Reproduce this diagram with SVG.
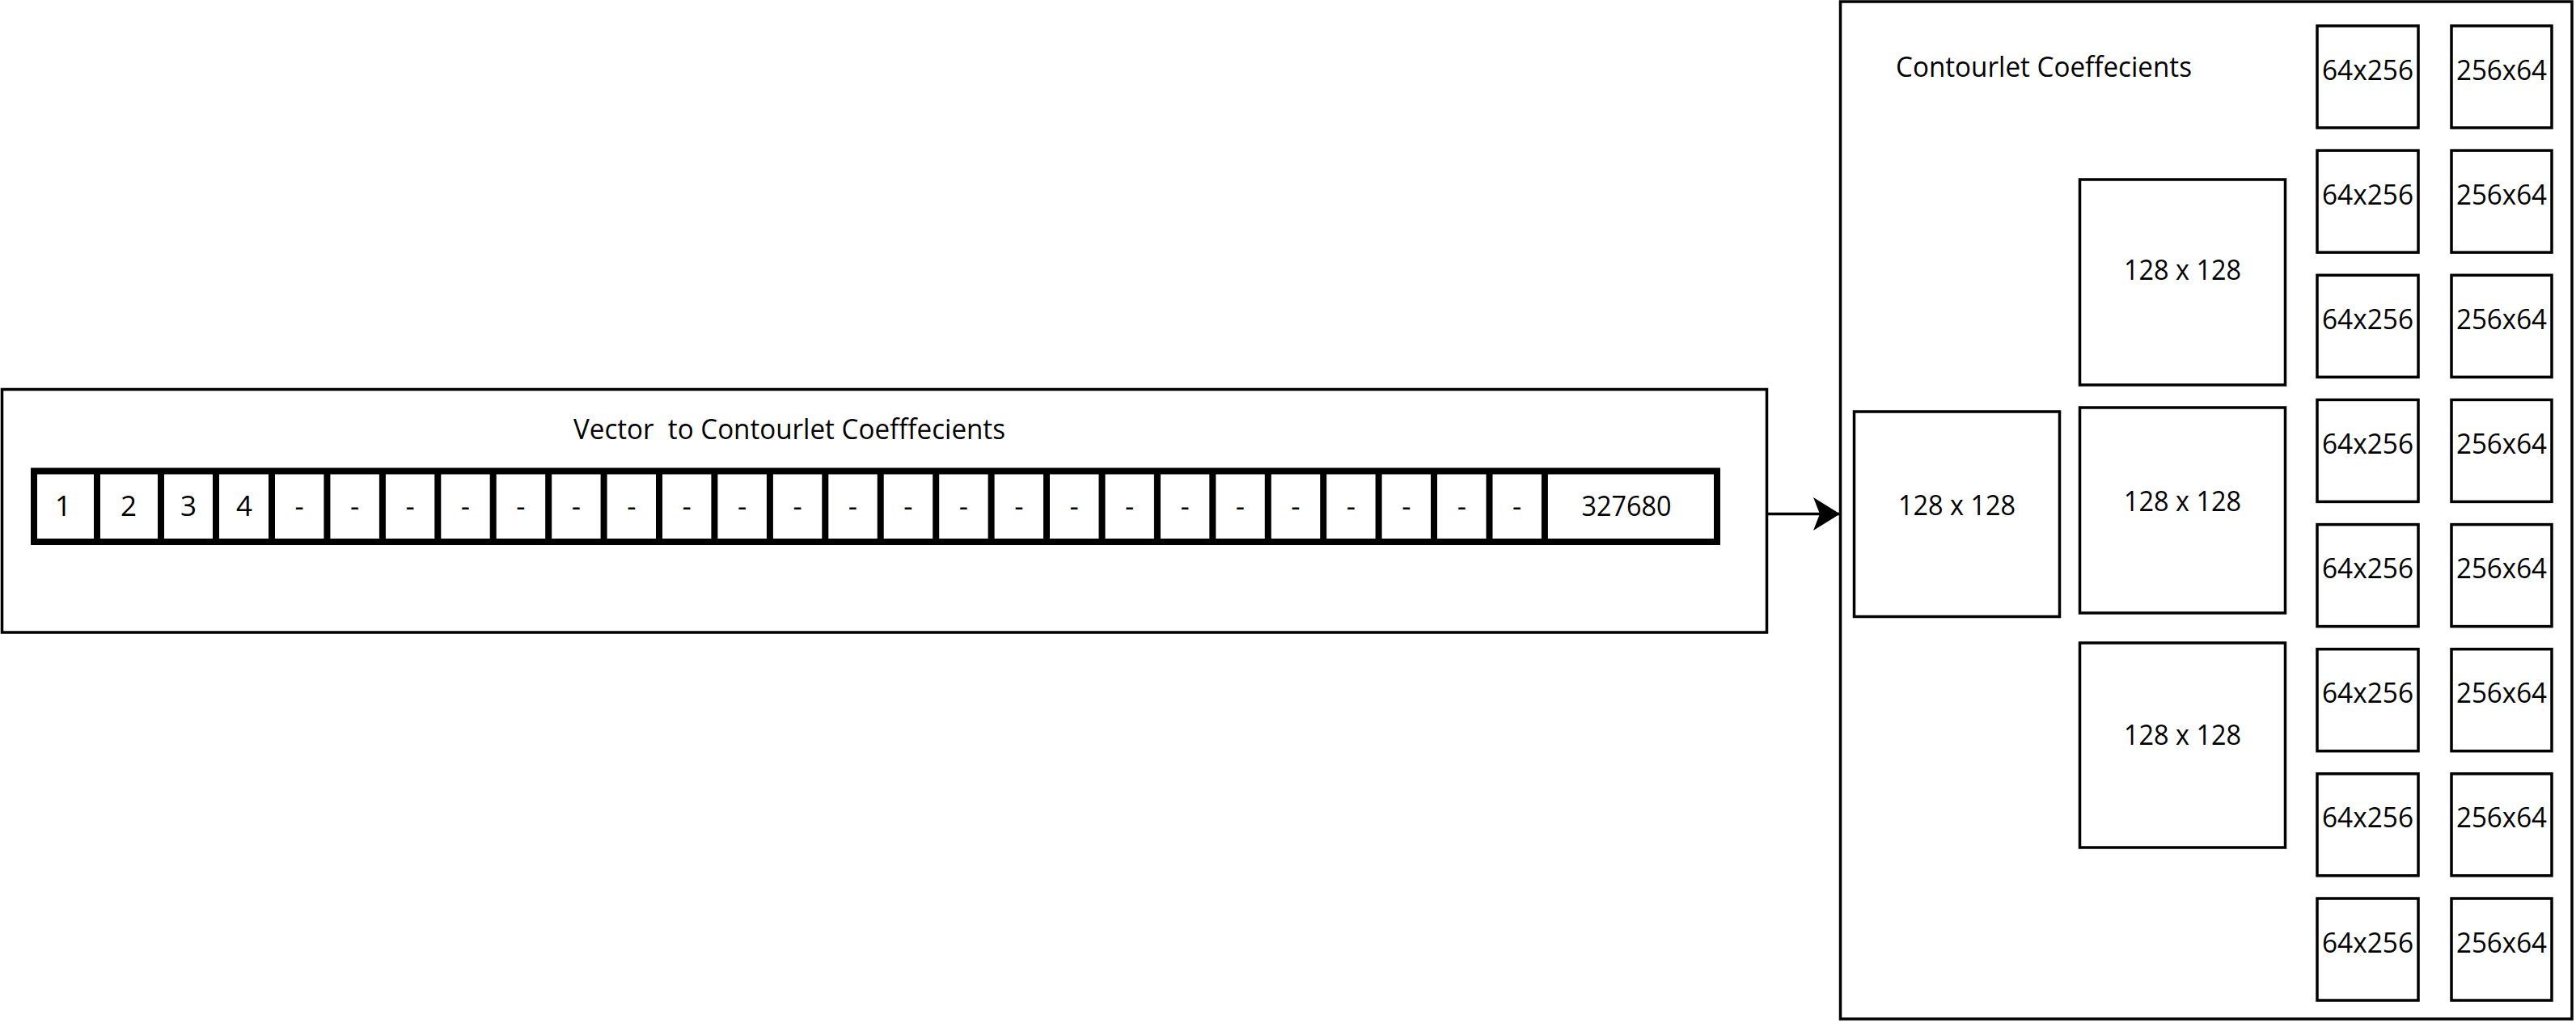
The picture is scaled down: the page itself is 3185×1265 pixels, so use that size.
<svg xmlns="http://www.w3.org/2000/svg" width="3185" height="1265" viewBox="0 0 3185 1265">
<style>
.box{fill:#fff;stroke:#000;stroke-width:3.5}
.strip{fill:#fff;stroke:#000;stroke-width:8}
.div{fill:none;stroke:#000;stroke-width:8}
.t{font-family:"Open Sans","Liberation Sans",sans-serif;font-size:35px;fill:#000}
.m{text-anchor:middle}
.conn{fill:none;stroke:#000;stroke-width:3.5}
</style>
<defs>
<marker id="arrow" markerUnits="userSpaceOnUse" viewBox="0 0 33 41" refX="33" refY="20.5" markerWidth="33" markerHeight="41" orient="auto">
<path d="M33,20.5 L0,0 L8,20.5 L0,41 Z" fill="#000"/>
</marker>
</defs>
<rect width="3185" height="1265" fill="#fff"/>

<g id="vector-panel">
<rect class="box" x="2.5" y="481.5" width="2182" height="300.5"/>
<text class="t" x="709" y="543" textLength="534" lengthAdjust="spacingAndGlyphs" xml:space="preserve">Vector  to Contourlet Coefffecients</text>
</g>

<g id="vector-strip">
<rect class="strip" x="42" y="582.5" width="2081" height="87.5"/>
<path class="div" d="M120,582.5V670 M199,582.5V670 M267,582.5V670 M336,582.5V670 M404.4,582.5V670 M472.9,582.5V670 M541.3,582.5V670 M609.7,582.5V670 M678.2,582.5V670 M746.6,582.5V670 M815,582.5V670 M883.4,582.5V670 M951.9,582.5V670 M1020.3,582.5V670 M1088.7,582.5V670 M1157.2,582.5V670 M1225.6,582.5V670 M1294,582.5V670 M1362.5,582.5V670 M1430.9,582.5V670 M1499.3,582.5V670 M1567.8,582.5V670 M1636.2,582.5V670 M1704.6,582.5V670 M1773,582.5V670 M1841.5,582.5V670 M1909.9,582.5V670"/>
<g class="t m">
<text x="78" y="638">1</text>
<text x="159" y="638">2</text>
<text x="233" y="638">3</text>
<text x="302" y="638">4</text>
<text x="370.2" y="638">-</text>
<text x="438.6" y="638">-</text>
<text x="507.1" y="638">-</text>
<text x="575.5" y="638">-</text>
<text x="643.9" y="638">-</text>
<text x="712.4" y="638">-</text>
<text x="780.8" y="638">-</text>
<text x="849.2" y="638">-</text>
<text x="917.7" y="638">-</text>
<text x="986.1" y="638">-</text>
<text x="1054.5" y="638">-</text>
<text x="1123" y="638">-</text>
<text x="1191.4" y="638">-</text>
<text x="1259.8" y="638">-</text>
<text x="1328.2" y="638">-</text>
<text x="1396.7" y="638">-</text>
<text x="1465.1" y="638">-</text>
<text x="1533.5" y="638">-</text>
<text x="1602" y="638">-</text>
<text x="1670.4" y="638">-</text>
<text x="1738.8" y="638">-</text>
<text x="1807.3" y="638">-</text>
<text x="1875.7" y="638">-</text>
<text x="2011" y="638" textLength="111" lengthAdjust="spacingAndGlyphs">327680</text>
</g>
</g>

<g id="connectors">
<line class="conn" x1="2184.5" y1="635.5" x2="2275" y2="635.5" marker-end="url(#arrow)"/>
</g>

<g id="coeff-panel">
<rect class="box" x="2275.5" y="2" width="904.5" height="1258"/>
<text class="t" x="2344" y="95" textLength="366" lengthAdjust="spacingAndGlyphs">Contourlet Coeffecients</text>
</g>

<g id="lowpass">
<rect class="box" x="2292.5" y="509" width="254" height="253.5"/>
<text class="t m" x="2419.5" y="637" textLength="145" lengthAdjust="spacingAndGlyphs">128 x 128</text>
</g>

<g id="mid-1">
<rect class="box" x="2571.5" y="222" width="254" height="254"/>
<text class="t m" x="2698.5" y="346" textLength="145" lengthAdjust="spacingAndGlyphs">128 x 128</text>
</g>
<g id="mid-2">
<rect class="box" x="2571.5" y="504" width="254" height="254"/>
<text class="t m" x="2698.5" y="632" textLength="145" lengthAdjust="spacingAndGlyphs">128 x 128</text>
</g>
<g id="mid-3">
<rect class="box" x="2571.5" y="795" width="254" height="253"/>
<text class="t m" x="2698.5" y="921" textLength="145" lengthAdjust="spacingAndGlyphs">128 x 128</text>
</g>

<g id="v-1"><rect class="box" x="2865" y="32" width="125" height="126"/><text class="t m" x="2927.5" y="98.5" textLength="113" lengthAdjust="spacingAndGlyphs">64x256</text></g>
<g id="h-1"><rect class="box" x="3031" y="32" width="124" height="126"/><text class="t m" x="3093" y="98.5" textLength="112" lengthAdjust="spacingAndGlyphs">256x64</text></g>
<g id="v-2"><rect class="box" x="2865" y="186.1" width="125" height="126"/><text class="t m" x="2927.5" y="252.6" textLength="113" lengthAdjust="spacingAndGlyphs">64x256</text></g>
<g id="h-2"><rect class="box" x="3031" y="186.1" width="124" height="126"/><text class="t m" x="3093" y="252.6" textLength="112" lengthAdjust="spacingAndGlyphs">256x64</text></g>
<g id="v-3"><rect class="box" x="2865" y="340.3" width="125" height="126"/><text class="t m" x="2927.5" y="406.8" textLength="113" lengthAdjust="spacingAndGlyphs">64x256</text></g>
<g id="h-3"><rect class="box" x="3031" y="340.3" width="124" height="126"/><text class="t m" x="3093" y="406.8" textLength="112" lengthAdjust="spacingAndGlyphs">256x64</text></g>
<g id="v-4"><rect class="box" x="2865" y="494.4" width="125" height="126"/><text class="t m" x="2927.5" y="560.9" textLength="113" lengthAdjust="spacingAndGlyphs">64x256</text></g>
<g id="h-4"><rect class="box" x="3031" y="494.4" width="124" height="126"/><text class="t m" x="3093" y="560.9" textLength="112" lengthAdjust="spacingAndGlyphs">256x64</text></g>
<g id="v-5"><rect class="box" x="2865" y="648.6" width="125" height="126"/><text class="t m" x="2927.5" y="715.1" textLength="113" lengthAdjust="spacingAndGlyphs">64x256</text></g>
<g id="h-5"><rect class="box" x="3031" y="648.6" width="124" height="126"/><text class="t m" x="3093" y="715.1" textLength="112" lengthAdjust="spacingAndGlyphs">256x64</text></g>
<g id="v-6"><rect class="box" x="2865" y="802.7" width="125" height="126"/><text class="t m" x="2927.5" y="869.2" textLength="113" lengthAdjust="spacingAndGlyphs">64x256</text></g>
<g id="h-6"><rect class="box" x="3031" y="802.7" width="124" height="126"/><text class="t m" x="3093" y="869.2" textLength="112" lengthAdjust="spacingAndGlyphs">256x64</text></g>
<g id="v-7"><rect class="box" x="2865" y="956.8" width="125" height="126"/><text class="t m" x="2927.5" y="1023.3" textLength="113" lengthAdjust="spacingAndGlyphs">64x256</text></g>
<g id="h-7"><rect class="box" x="3031" y="956.8" width="124" height="126"/><text class="t m" x="3093" y="1023.3" textLength="112" lengthAdjust="spacingAndGlyphs">256x64</text></g>
<g id="v-8"><rect class="box" x="2865" y="1111" width="125" height="126"/><text class="t m" x="2927.5" y="1177.5" textLength="113" lengthAdjust="spacingAndGlyphs">64x256</text></g>
<g id="h-8"><rect class="box" x="3031" y="1111" width="124" height="126"/><text class="t m" x="3093" y="1177.5" textLength="112" lengthAdjust="spacingAndGlyphs">256x64</text></g>
</svg>
